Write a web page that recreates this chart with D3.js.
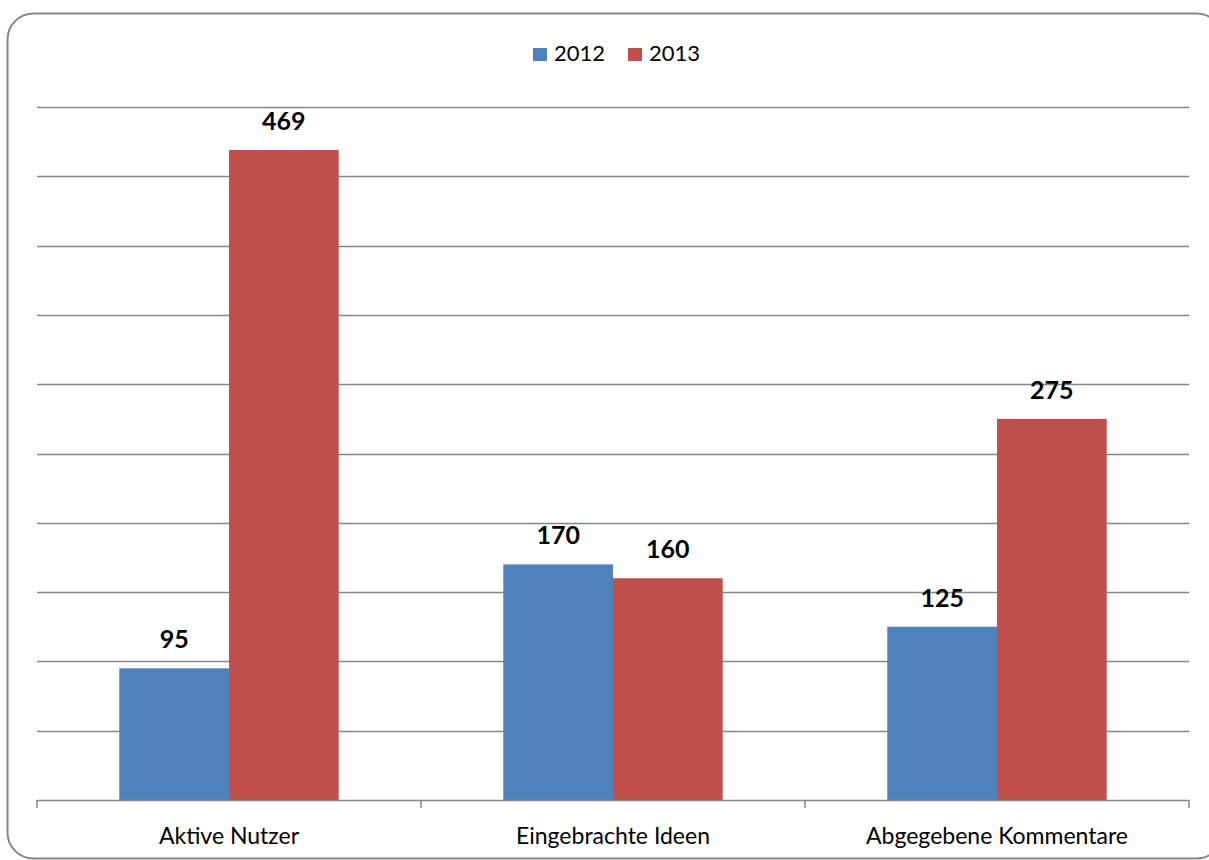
<!DOCTYPE html>
<html>
<head>
<meta charset="utf-8">
<script src="https://cdn.jsdelivr.net/npm/d3@7/dist/d3.min.js"></script>
<style>
  html, body { margin: 0; padding: 0; background: #fff; }
  svg { display: block; }
  text { font-family: Lato, "Open Sans", "Liberation Sans", sans-serif; }
</style>
</head>
<body>
<svg id="chart" width="1209" height="860"></svg>
<script>
// Chart data
const categories = ["Aktive Nutzer", "Eingebrachte Ideen", "Abgegebene Kommentare"];
const seriesNames = ["2012", "2013"];
const values2012 = [95, 170, 125];
const values2013 = [469, 160, 275];
const gridTicks = [0, 50, 100, 150, 200, 250, 300, 350, 400, 450, 500];
const seriesColors = ["#4F81BD", "#C0504D"];

const svg = d3.select("#chart");

// Rounded outer frame
svg.append("rect")
  .attr("x", 7.5).attr("y", 13.5)
  .attr("width", 1215).attr("height", 845)
  .attr("rx", 26).attr("ry", 26)
  .attr("fill", "#fff")
  .attr("stroke", "#868686").attr("stroke-width", 2);

const plot = { left: 37, right: 1189, top: 107, bottom: 800 };

const x0 = d3.scaleBand().domain(categories).range([plot.left, plot.right]).paddingInner(0).paddingOuter(0);
const x1 = d3.scaleBand().domain(seriesNames).range([0, x0.bandwidth()]).paddingOuter(0.75).paddingInner(0);
const y = d3.scaleLinear().domain([0, 500]).range([plot.bottom, plot.top]);

// Horizontal gridlines
svg.append("g").selectAll("line").data(gridTicks.filter(d => d > 0)).join("line")
  .attr("x1", plot.left).attr("x2", plot.right)
  .attr("y1", d => Math.round(y(d)) + 0.5).attr("y2", d => Math.round(y(d)) + 0.5)
  .attr("stroke", "#868686").attr("stroke-width", 1.5);

// Bars
const rows = categories.map((c, i) => ({ cat: c, vals: [values2012[i], values2013[i]] }));
const groups = svg.append("g").selectAll("g").data(rows).join("g")
  .attr("transform", d => `translate(${x0(d.cat)},0)`);

groups.selectAll("rect").data(d => d.vals.map((v, j) => ({ v, s: seriesNames[j], c: seriesColors[j] }))).join("rect")
  .attr("x", d => x1(d.s))
  .attr("width", x1.bandwidth())
  .attr("y", d => y(d.v))
  .attr("height", d => y(0) - y(d.v))
  .attr("fill", d => d.c);

// Value labels
groups.selectAll("text.val").data(d => d.vals.map((v, j) => ({ v, s: seriesNames[j] }))).join("text")
  .attr("class", "val")
  .attr("x", d => x1(d.s) + x1.bandwidth() / 2)
  .attr("y", d => y(d.v) - 20)
  .attr("text-anchor", "middle")
  .attr("font-size", 25).attr("font-weight", "bold").attr("fill", "#000")
  .text(d => d.v);

// Category axis
const axisG = svg.append("g").attr("transform", `translate(0,${plot.bottom})`);
axisG.append("line")
  .attr("x1", plot.left).attr("x2", plot.right)
  .attr("y1", 0.5).attr("y2", 0.5)
  .attr("stroke", "#868686").attr("stroke-width", 1.5);
const boundaries = categories.map(c => x0(c)).concat([plot.right]);
axisG.selectAll("line.tick").data(boundaries).join("line")
  .attr("class", "tick")
  .attr("x1", d => d).attr("x2", d => d)
  .attr("y1", 0).attr("y2", 8)
  .attr("stroke", "#868686").attr("stroke-width", 1.5);
axisG.selectAll("text.cat").data(categories).join("text")
  .attr("class", "cat")
  .attr("x", d => x0(d) + x0.bandwidth() / 2)
  .attr("y", 44)
  .attr("text-anchor", "middle")
  .attr("font-size", 23).attr("fill", "#000")
  .text(d => d);

// Legend
const legend = svg.append("g");
const legendX = [533, 628];
seriesNames.forEach((s, i) => {
  legend.append("rect")
    .attr("x", legendX[i]).attr("y", 48)
    .attr("width", 14).attr("height", 13)
    .attr("fill", seriesColors[i]);
  legend.append("text")
    .attr("x", legendX[i] + 21).attr("y", 61)
    .attr("font-size", 22).attr("fill", "#000")
    .text(s);
});
</script>
</body>
</html>
